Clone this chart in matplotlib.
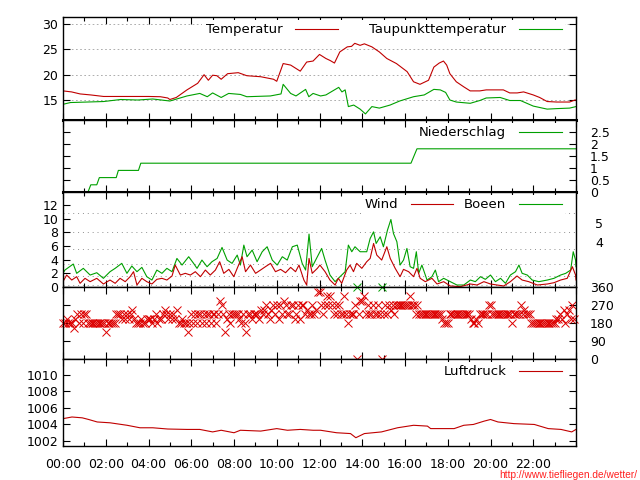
import numpy as np
import matplotlib.pyplot as plt
from matplotlib.ticker import MultipleLocator

# Zeitachse in Stunden (0 - 24)
# Temperatur und Taupunkt
temp_t = [0.0, 0.4, 0.8, 1.3, 1.9, 3.0, 4.0, 4.55, 4.9, 5.0, 5.3, 5.8, 6.3, 6.6, 6.8, 7.0, 7.2,
          7.4, 7.7, 8.2, 8.6, 9.25, 9.85, 10.0, 10.3, 10.65, 11.1, 11.4, 11.7, 12.0, 12.3, 12.5,
          12.7, 12.95, 13.3, 13.5, 13.65, 13.9, 14.1, 14.45, 14.8, 15.15, 15.6, 16.1, 16.4, 16.7,
          17.1, 17.35, 17.6, 17.8, 17.95, 18.1, 18.4, 18.75, 19.05, 19.5, 19.8, 20.6, 20.9, 21.25,
          21.55, 22.0, 22.3, 22.65, 23.1, 23.7, 23.95, 24.0]
temp_v = [16.8, 16.6, 16.2, 16.0, 15.7, 15.7, 15.7, 15.65, 15.4, 15.1, 15.5, 17.0, 18.3, 20.0,
          18.9, 19.9, 19.8, 19.1, 20.2, 20.4, 19.8, 19.6, 19.1, 18.7, 22.2, 21.9, 20.7, 22.5, 22.7,
          24.0, 23.2, 22.8, 22.3, 24.5, 25.5, 25.6, 26.2, 25.8, 26.1, 25.5, 24.5, 23.2, 22.2, 20.6,
          18.6, 18.1, 18.9, 21.5, 22.3, 22.7, 21.9, 20.2, 18.6, 17.6, 16.8, 16.8, 17.0, 17.0, 16.4,
          16.4, 16.6, 16.0, 15.5, 14.7, 14.6, 14.6, 15.0, 15.0]
dew_t = [0.0, 0.35, 1.9, 2.7, 3.5, 4.2, 5.0, 5.8, 6.4, 6.75, 7.0, 7.4, 7.75, 8.3, 8.6, 9.7, 10.2,
         10.3, 10.65, 10.9, 11.35, 11.5, 11.7, 12.05, 12.3, 12.9, 13.05, 13.2, 13.35, 13.6, 13.9,
         14.15, 14.45, 14.8, 15.3, 15.75, 16.4, 16.9, 17.35, 17.65, 17.9, 18.1, 18.4, 19.05, 19.5,
         19.8, 20.45, 20.9, 21.4, 22.0, 22.65, 23.1, 23.7, 24.0]
dew_v = [14.15, 14.5, 14.7, 15.1, 15.0, 15.2, 14.8, 15.8, 16.3, 15.65, 16.4, 15.5, 16.3, 16.1,
         15.65, 15.8, 16.2, 18.1, 16.3, 15.8, 17.1, 15.65, 16.3, 15.8, 16.0, 17.5, 16.6, 17.0, 13.7,
         14.0, 13.2, 12.25, 13.7, 13.4, 14.0, 14.8, 15.65, 16.0, 17.1, 17.0, 16.5, 15.0, 14.6, 14.35,
         14.9, 15.4, 15.5, 14.9, 14.9, 13.8, 13.2, 13.3, 13.4, 13.7]

# Niederschlag (mm, Tagessumme)
rain_t = [0, 1.17, 1.30, 1.58, 1.70, 2.49, 2.59, 3.53, 3.64, 16.28, 16.56, 24]
rain_v = [0, 0, 0.3, 0.3, 0.6, 0.6, 0.9, 0.9, 1.2, 1.2, 1.8, 1.8]

# Wind und Boeen (m/s)
wind_t = [0.0, 0.17, 0.41, 0.64, 0.80, 1.03, 1.27, 1.58, 1.89, 2.20, 2.44, 2.67, 2.91, 3.14, 3.30,
          3.46, 3.69, 3.92, 4.16, 4.39, 4.63, 4.86, 5.10, 5.25, 5.49, 5.72, 5.96, 6.19, 6.43, 6.66,
          6.89, 7.13, 7.33, 7.52, 7.76, 7.99, 8.15, 8.38, 8.54, 8.77, 9.01, 9.24, 9.47, 9.71, 9.94,
          10.18, 10.41, 10.65, 10.88, 11.04, 11.27, 11.40, 11.51, 11.66, 11.90, 12.02, 12.26, 12.49,
          12.73, 12.88, 13.04, 13.27, 13.43, 13.59, 13.74, 13.98, 14.21, 14.37, 14.53, 14.68, 14.91,
          15.15, 15.31, 15.54, 15.77, 15.93, 16.17, 16.40, 16.56, 16.71, 16.95, 17.26, 17.50, 17.81,
          18.12, 18.59, 19.06, 19.37, 19.69, 20.00, 20.31, 20.62, 20.93, 21.24, 21.48, 21.79, 22.19,
          22.66, 22.97, 23.28, 23.59, 23.83, 23.98, 24.0]
wind_v = [0.78, 1.75, 1.02, 1.51, 0.54, 1.27, 0.78, 1.27, 0.44, 1.02, 0.54, 1.27, 0.78, 1.51, 2.24,
          0.29, 1.27, 0.78, 0.44, 1.12, 1.27, 1.02, 1.61, 3.21, 1.75, 2.0, 1.75, 2.24, 1.51, 2.48,
          1.75, 2.48, 3.70, 2.0, 2.58, 1.51, 2.73, 4.43, 2.24, 3.21, 2.0, 2.48, 2.97, 3.46, 2.24,
          2.58, 2.09, 2.87, 2.24, 3.21, 1.02, 0.29, 4.18, 2.0, 2.73, 3.21, 2.24, 1.02, 0.29, 1.27,
          0.54, 2.48, 3.21, 2.24, 3.46, 2.73, 3.70, 4.18, 6.37, 4.67, 3.94, 5.89, 4.18, 2.73, 1.51,
          2.58, 2.24, 1.51, 2.73, 1.27, 0.78, 1.27, 0.44, 0.78, 0.15, 0.05, 0.44, 0.29, 0.78, 0.44,
          0.29, 0.15, 0.78, 1.61, 1.02, 0.78, 0.29, 0.44, 0.63, 1.02, 1.27, 2.97, 1.75, 1.02]
gust_t = [0.0, 0.09, 0.48, 0.64, 0.95, 1.27, 1.58, 1.89, 2.20, 2.44, 2.75, 2.99, 3.22, 3.46, 3.69,
          3.92, 4.16, 4.39, 4.63, 4.86, 5.10, 5.33, 5.57, 5.88, 6.11, 6.27, 6.50, 6.74, 6.97, 7.21,
          7.44, 7.68, 7.91, 8.15, 8.30, 8.46, 8.61, 8.85, 9.08, 9.32, 9.55, 9.79, 10.02, 10.26,
          10.49, 10.73, 10.96, 11.19, 11.35, 11.51, 11.66, 11.90, 12.10, 12.26, 12.49, 12.73, 12.96,
          13.20, 13.35, 13.51, 13.66, 13.90, 14.21, 14.37, 14.53, 14.65, 14.84, 14.99, 15.18, 15.34,
          15.46, 15.62, 15.77, 15.93, 16.09, 16.24, 16.40, 16.53, 16.64, 16.79, 17.03, 17.26, 17.42,
          17.57, 17.81, 18.12, 18.43, 18.75, 19.06, 19.29, 19.53, 19.76, 20.00, 20.23, 20.47, 20.70,
          20.93, 21.17, 21.33, 21.48, 21.72, 21.95, 22.26, 22.66, 22.97, 23.28, 23.52, 23.75, 23.87,
          23.98, 24.0]
gust_v = [2.0, 2.48, 3.36, 2.0, 2.73, 1.75, 2.09, 1.27, 2.24, 2.73, 3.46, 2.0, 3.07, 2.24, 2.87,
          1.51, 1.02, 2.48, 2.0, 2.73, 2.24, 4.18, 3.21, 4.43, 3.46, 2.73, 3.94, 2.97, 3.70, 4.18,
          5.79, 3.94, 3.46, 4.67, 3.21, 6.13, 4.43, 5.40, 3.70, 5.16, 5.89, 3.94, 3.21, 4.43, 3.94,
          5.89, 6.13, 3.46, 2.48, 7.74, 2.97, 4.43, 5.64, 3.94, 1.75, 0.78, 1.51, 2.24, 6.13, 5.16,
          5.89, 5.16, 5.16, 7.10, 8.07, 6.37, 7.35, 5.89, 8.32, 9.88, 7.83, 6.62, 3.21, 3.94, 5.64,
          2.97, 2.73, 5.16, 2.0, 3.21, 1.02, 1.51, 2.48, 0.78, 1.27, 0.78, 0.29, 0.29, 1.02, 0.78,
          1.51, 1.12, 1.75, 0.78, 1.27, 0.54, 1.75, 2.24, 3.21, 2.0, 1.75, 1.02, 0.78, 1.02, 1.27,
          1.75, 2.0, 2.48, 5.16, 3.94, 2.97]

# Beaufort-Grenzen (m/s) und Lage der Beschriftung
bft_limits = [0.3, 1.6, 3.4, 5.5, 8.0, 10.8]
bft_label_pos = [6.65, 9.4]
bft_labels = ['4', '5']

# Windrichtung (Grad), 5-Minuten-Werte, eine Zeile pro Stunde
dir_hours = [
    [180, 180, 202, 180, 180, 180, 157, 202, 225, 180, 225, 180],
    [225, 225, 180, 180, 180, 180, 180, 180, 180, 180, 180, 180],
    [135, 180, 180, 180, 180, 180, 225, 225, 225, 202, 225, 202],
    [225, 202, 225, 247, 202, 180, 180, 180, 202, 180, 180, 202],
    [202, 202, 180, 202, 225, 180, 202, 202, 225, 247, 225, 202],
    [225, 202, 225, 202, 247, 180, 180, 202, 180, 180, 135, 180],
    [225, 180, 225, 180, 225, 225, 180, 225, 180, 225, 225, 180],
    [225, 225, 180, 225, 292, 270, 225, 135, 202, 225, 180, 225],
    [225, 225, 225, 202, 180, 225, 180, 135, 225, 225, 202, 225],
    [225, 225, 202, 247, 225, 247, 270, 225, 202, 247, 270, 225],
    [270, 202, 270, 225, 292, 270, 225, 225, 270, 270, 202, 225],
    [270, 202, 270, 270, 225, 247, 225, 225, 270, 225, 247, 337],
    [337, 270, 225, 270, 315, 270, 315, 270, 225, 270, 225, 270],
    [225, 225, 315, 225, 180, 225, 225, 225, 270, 0, 225, 292],
    [292, 315, 225, 270, 225, 225, 270, 225, 225, 270, 225, 0],
    [225, 270, 225, 270, 247, 270, 225, 270, 270, 270, 270, 270],
    [270, 270, 270, 315, 270, 270, 225, 270, 225, 225, 225, 225],
    [225, 225, 225, 225, 225, 225, 225, 225, 225, 202, 180, 180],
    [180, 225, 225, 225, 225, 225, 225, 225, 225, 225, 225, 225],
    [225, 202, 180, 180, 202, 180, 225, 225, 225, 225, 225, 270],
    [270, 225, 225, 225, 225, 225, 225, 225, 225, 225, 225, 225],
    [180, 225, 225, 225, 225, 270, 225, 247, 225, 225, 225, 180],
    [180, 180, 180, 180, 180, 180, 180, 180, 180, 180, 180, 180],
    [180, 202, 202, 225, 202, 247, 180, 225, 247, 202, 270, 202],
]
calm_t = [13.75, 14.92]
calm_v = [360, 360]

# Luftdruck (hPa)
press_t = [0, 0.42, 0.9, 1.2, 1.6, 2.2, 3.0, 3.6, 4.2, 4.9, 5.8, 6.4, 7.0, 7.4, 8.0, 8.3, 9.25,
           10.0, 10.5, 11.1, 11.7, 12.05, 12.8, 13.45, 13.7, 14.1, 14.9, 15.65, 16.4, 17.05, 17.2,
           18.3, 18.75, 19.2, 19.7, 20.0, 20.35, 21.1, 22.05, 22.7, 23.3, 23.8, 24.0]
press_v = [1004.7, 1004.9, 1004.8, 1004.6, 1004.3, 1004.2, 1003.9, 1003.6, 1003.6, 1003.45,
           1003.4, 1003.4, 1003.1, 1003.3, 1003.0, 1003.3, 1003.2, 1003.5, 1003.3, 1003.4, 1003.3,
           1003.3, 1003.0, 1002.9, 1002.4, 1002.9, 1003.1, 1003.6, 1003.9, 1003.8, 1003.5, 1003.5,
           1003.9, 1004.0, 1004.4, 1004.6, 1004.3, 1004.1, 1004.0, 1003.5, 1003.4, 1003.1, 1003.4]

hour_labels = ['%02d:00' % h for h in range(0, 24, 2)]

RED = '#c00000'
GREEN = '#00a000'

plt.rcParams['font.family'] = 'DejaVu Sans'
plt.rcParams['font.size'] = 9

fig = plt.figure(figsize=(6.4, 4.8), dpi=100)
W, H = 640.0, 480.0
rows = [(17, 120), (120, 192), (192, 287), (287, 359), (359, 446)]
axes = [fig.add_axes([63 / W, 1 - b / H, 513 / W, (b - t) / H]) for t, b in rows]
ax1, ax2, ax3, ax4, ax5 = axes

for ax in axes:
    ax.set_xlim(0, 24)
    ax.xaxis.set_major_locator(MultipleLocator(2))
    ax.xaxis.set_minor_locator(MultipleLocator(1))
    ax.tick_params(which='both', direction='in', top=True, bottom=True, left=True, right=True,
                   width=0.8, labelsize=9)
    ax.tick_params(which='major', length=5)
    ax.tick_params(which='minor', length=3)
    ax.tick_params(axis='x', labelbottom=False)
    for s in ax.spines.values():
        s.set_linewidth(1.0)


def key(ax, hpx, **kw):
    # gnuplot-artige Legende: Text rechtsbuendig, Linie dahinter
    opts = dict(loc='upper right', bbox_to_anchor=(1 - 11 / 513, 1 - 3 / hpx), borderaxespad=0,
                markerfirst=False, frameon=True, framealpha=1, edgecolor='none', fancybox=False,
                handlelength=3.2, handletextpad=1.0, columnspacing=2.4, borderpad=0.25,
                prop={'size': 9.5})
    opts.update(kw)
    return ax.legend(**opts)


# Temperatur
ax1.plot(temp_t, temp_v, color=RED, lw=0.8, label='Temperatur')
ax1.plot(dew_t, dew_v, color=GREEN, lw=0.8, label='Taupunkttemperatur')
ax1.set_ylim(11.05, 31.4)
ax1.set_yticks([15, 20, 25, 30])
ax1.grid(axis='y', color='#a0a0a0', linestyle=(0, (2, 3)), lw=0.6)
key(ax1, 103, ncol=2)
ax1.spines['bottom'].set_linewidth(2.2)

# Niederschlag
ax2.plot(rain_t, rain_v, color=GREEN, lw=0.8, label='Niederschlag')
ax2.set_ylim(0, 3.0)
ax2.set_yticks([0, 0.5, 1, 1.5, 2, 2.5])
ax2.set_yticklabels(['0', '0.5', '1', '1.5', '2', '2.5'])
ax2.tick_params(axis='y', labelleft=False, labelright=True, pad=10)
key(ax2, 72)
ax2.spines['bottom'].set_linewidth(2.2)

# Wind
for b in bft_limits:
    ax3.axhline(b, color='#909090', linestyle=(0, (1, 4)), lw=0.7, zorder=0)
ax3.plot(gust_t, gust_v, color=GREEN, lw=0.8, label='Boeen')
ax3.plot(wind_t, wind_v, color=RED, lw=0.8, label='Wind')
ax3.set_ylim(0, 13.9)
ax3.set_yticks(range(0, 13, 2))
h, l = ax3.get_legend_handles_labels()
key(ax3, 95, handles=h[::-1], labels=l[::-1], ncol=2, columnspacing=0.8)
ax3b = ax3.twinx()
ax3b.set_ylim(ax3.get_ylim())
ax3b.set_yticks(bft_label_pos)
ax3b.set_yticklabels(bft_labels)
ax3b.tick_params(axis='y', length=0, pad=14, labelsize=9)
for s in ax3b.spines.values():
    s.set_visible(False)

# Windrichtung
dir_v = [d for hour in dir_hours for d in hour]
dir_t = np.arange(len(dir_v)) / 12.0
ax4.plot(dir_t, dir_v, linestyle='none', marker='x', ms=6, mew=0.7, color='#dd0000', clip_on=False)
ax4.plot(calm_t, calm_v, linestyle='none', marker='x', ms=6, mew=0.7, color=GREEN, clip_on=False)
ax4.set_ylim(0, 360)
ax4.set_yticks([0, 90, 180, 270, 360])
ax4.tick_params(axis='y', labelleft=False, labelright=True, pad=10)

# Luftdruck
ax5.plot(press_t, press_v, color=RED, lw=0.8, label='Luftdruck')
ax5.set_ylim(1001.4, 1011.9)
ax5.set_yticks([1002, 1004, 1006, 1008, 1010])
key(ax5, 87)
ax5.tick_params(axis='x', labelbottom=True, pad=9)
ax5.set_xticks(range(0, 24, 2))
ax5.set_xticklabels(hour_labels)

fig.text(0.996, 0.0, 'http://www.tiefliegen.de/wetter/', color='#ff2020', fontsize=7.3,
         family='Liberation Sans', ha='right', va='bottom')

fig.savefig('out.png', dpi=100)
